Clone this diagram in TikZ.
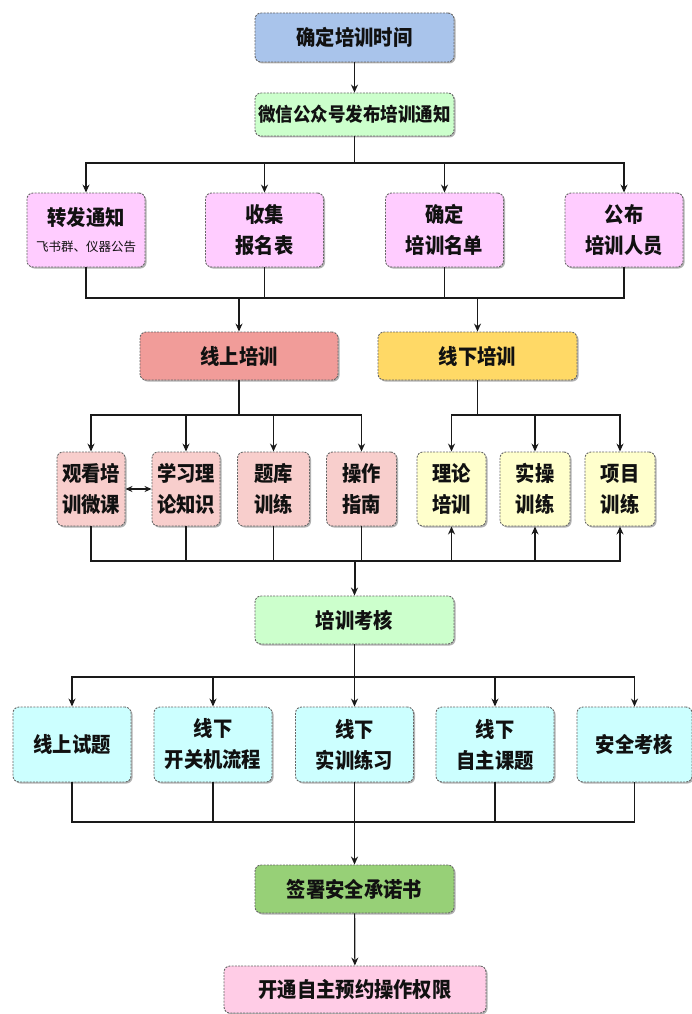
\documentclass[tikz,border=0pt]{standalone}
\usepackage{fontspec}
\newfontfamily\cjk{Noto Sans CJK SC}
\newfontfamily\cjkc[FakeStretch=0.92]{Noto Sans CJK SC}
\usetikzlibrary{arrows.meta,shadows}
\definecolor{cblue}{HTML}{A9C4EB}
\definecolor{cgreenl}{HTML}{CCFFCC}
\definecolor{cviolet}{HTML}{FFCCFF}
\definecolor{csalmon}{HTML}{F19C99}
\definecolor{cyellow}{HTML}{FFD966}
\definecolor{cpink}{HTML}{F8CECC}
\definecolor{cyell}{HTML}{FFFFCC}
\definecolor{ccyan}{HTML}{CCFFFF}
\definecolor{cgreen}{HTML}{97D077}
\definecolor{cpinkb}{HTML}{FFCCE6}
\definecolor{boxline}{HTML}{666666}
\definecolor{linec}{HTML}{1A1A1A}
\definecolor{txt}{HTML}{111111}
\begin{document}
\begin{tikzpicture}[x=1pt,y=-1pt,
  box/.style={draw=boxline, dash pattern=on 2pt off 1.2pt, line width=0.9pt,
    rounded corners=6pt, align=center, text=txt, inner sep=0pt,
    font=\cjkc\bfseries\fontsize{21}{31}\selectfont,
    drop shadow={shadow xshift=1.5pt,shadow yshift=-1.5pt,opacity=0.3,fill=black}},
  r3/.style={box, fill=cviolet, minimum width=118pt, minimum height=74pt},
  r5p/.style={box, fill=cpink, minimum height=74pt},
  r5y/.style={box, fill=cyell, minimum height=74pt},
  r7/.style={box, fill=ccyan, minimum width=118pt, minimum height=75pt},
  ln/.style={line width=1.2pt, draw=linec},
  arr/.style={ln, -{Stealth[length=8pt,width=7pt]}},
  biarr/.style={ln, {Stealth[length=7pt,width=6pt]}-{Stealth[length=7pt,width=6pt]}}
]
\useasboundingbox (0,0) rectangle (691,1014);

% top
\node[box, fill=cblue, minimum width=199pt, minimum height=49pt] (t1) at (354.5,37.5) {确定培训时间};
\node[box, fill=cgreenl, minimum width=199pt, minimum height=43pt,
      font=\cjkc\bfseries\fontsize{19}{22}\selectfont] (t2) at (354.5,114.5) {微信公众号发布培训通知};

% row 3
\node[r3] (a1) at (86,230) {转发通知\\[-5pt]{\cjk\mdseries\fontsize{12.5}{14}\selectfont 飞书群、仪器公告}};
\node[r3] (a2) at (264.5,230) {收集\\报名表};
\node[r3] (a3) at (444.5,230) {确定\\培训名单};
\node[r3] (a4) at (624,230) {公布\\培训人员};

% row 4
\node[box, fill=csalmon, minimum width=198pt, minimum height=48pt] (on) at (239,356) {线上培训};
\node[box, fill=cyellow, minimum width=199pt, minimum height=48pt] (off) at (477.5,356) {线下培训};

% row 5
\node[r5p, minimum width=68pt] (p1) at (91,489) {观看培\\训微课};
\node[r5p, minimum width=68pt] (p2) at (186,489) {学习理\\论知识};
\node[r5p, minimum width=72pt] (p3) at (273.5,489) {题库\\训练};
\node[r5p, minimum width=70pt] (p4) at (361.5,489) {操作\\指南};
\node[r5y, minimum width=69pt] (y1) at (451.5,489) {理论\\培训};
\node[r5y, minimum width=70pt] (y2) at (535,489) {实操\\训练};
\node[r5y, minimum width=70pt] (y3) at (620,489) {项目\\训练};

% exam
\node[box, fill=cgreenl, minimum width=199pt, minimum height=48pt] (ex) at (354.5,620) {培训考核};

% row 7
\node[r7] (c1) at (72,744.5) {线上试题};
\node[r7] (c2) at (213,744.5) {线下\\开关机流程};
\node[r7] (c3) at (354.5,744.5) {线下\\实训练习};
\node[r7] (c4) at (495,744.5) {线下\\自主课题};
\node[r7, minimum width=115pt] (c5) at (634.5,744.5) {安全考核};

% bottom
\node[box, fill=cgreen, minimum width=199pt, minimum height=48pt] (sg) at (354.5,889) {签署安全承诺书};
\node[box, fill=cpinkb, minimum width=262pt, minimum height=47pt] (op) at (355,989.5) {开通自主预约操作权限};

% junctions
\coordinate (j1) at (354.5,163);
\coordinate (j2) at (239,298);
\coordinate (j3) at (477.5,298);
\coordinate (j4) at (239,415);
\coordinate (j5) at (477.5,415);
\coordinate (j6) at (354.5,561);
\coordinate (j7) at (354.5,677);
\coordinate (j8) at (354.5,822);

% connectors
\draw[arr] (t1) -- (t2);
\draw[ln] (t2) -- (j1);
\foreach \n in {a1,a2,a3,a4} \draw[arr] (j1) -| (\n.north);

\foreach \n in {a1,a2} \draw[ln] (\n.south) |- (j3);
\foreach \n in {a3,a4} \draw[ln] (\n.south) |- (j2);
\draw[arr] (j2) -- (on);
\draw[arr] (j3) -- (off);

\draw[ln] (on) -- (j4);
\foreach \n in {p1,p2,p3,p4} \draw[arr] (j4) -| (\n.north);
\draw[ln] (off) -- (j5);
\foreach \n in {y1,y2,y3} \draw[arr] (j5) -| (\n.north);
\draw[biarr] (p1) -- (p2);

\foreach \n in {p1,p2,p3,p4} \draw[ln] (\n.south) |- (j6);
\foreach \n in {y1,y2,y3} \draw[arr] (j6) -| (\n.south);
\draw[arr, line width=2pt] (j6) -- (ex);

\draw[ln, line width=1.8pt] (ex) -- (j7);
\foreach \n in {c1,c2,c3,c4,c5} \draw[arr] (j7) -| (\n.north);
\foreach \n in {c1,c2,c3,c4,c5} \draw[ln] (\n.south) |- (j8);
\draw[arr, line width=1.6pt] (j8) -- (sg);
\draw[arr] (sg) -- (op);
\end{tikzpicture}
\end{document}
